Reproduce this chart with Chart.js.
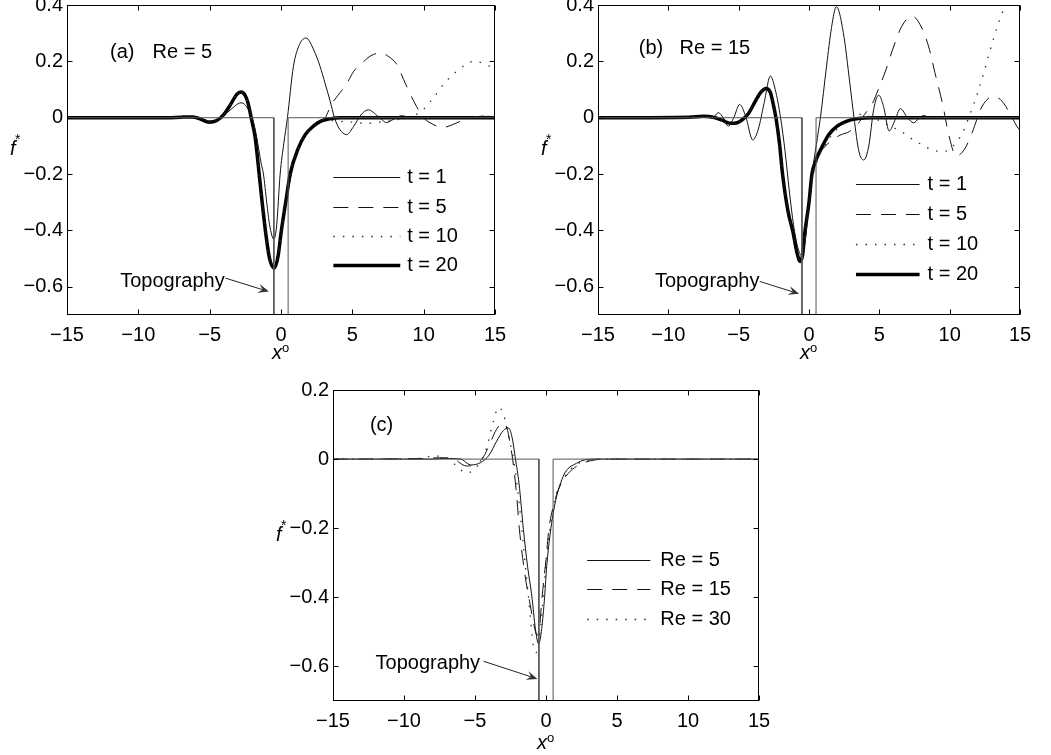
<!DOCTYPE html>
<html>
<head>
<meta charset="utf-8">
<title>f* profiles, Re = 5, 15, 30</title>
<script src="https://cdn.jsdelivr.net/npm/chart.js@4.4.1/dist/chart.umd.min.js"></script>
<style>
  body { margin: 0; background: #fff; }
  #fig { position: relative; width: 1051px; height: 755px; overflow: hidden; background: #fff; }
  #fig canvas { position: absolute; }
</style>
</head>
<body>
<div id="fig">
  <canvas id="chartA" width="520" height="365" style="left:0px;top:0px"></canvas>
  <canvas id="chartB" width="521" height="365" style="left:530px;top:0px"></canvas>
  <canvas id="chartC" width="520" height="385" style="left:260px;top:370px"></canvas>
</div>
<script>
// axis ticks
const xTicks = [-15, -10, -5, 0, 5, 10, 15];
const yTicksTop = [-0.6, -0.4, -0.2, 0, 0.2, 0.4];
const yTicksBottom = [-0.6, -0.4, -0.2, 0, 0.2];

// topography (rectangular step, same in all panels)
const topoX = [-15, -0.5, -0.5, 0.5, 0.5, 15];
const topoY = [0, 0, -1, -1, 0, 0];

// panel (a), Re = 5
const a_t1_x = [-15,-8,-7,-6.5,-6,-5.5,-5,-4.5,-4,-3.5,-3,-2.8,-2.5,-2.2,-2,-1.7,-1.4,-1.23,-1,-0.8,-0.5,-0.3,-0.06,0.2,0.45,0.87,1.3,1.76,2.3,2.74,3.1,3.44,3.75,4.1,4.6,5.1,5.6,6.12,6.8,7.41,7.9,8.46,9.2,10,11,12,13,14,14.5,15];
const a_t1_y = [0,0,0.002,0.004,0.005,-0.004,-0.012,-0.008,0.008,0.03,0.05,0.053,0.045,0.02,-0.005,-0.07,-0.16,-0.2,-0.3,-0.38,-0.431,-0.38,-0.2,-0.09,0,0.182,0.26,0.283,0.24,0.182,0.12,0.06,0,-0.04,-0.06,-0.03,0.01,0.028,0.005,-0.017,-0.005,0.007,0,0.002,0,0,0,0.003,0.005,0.004];
const a_t5_x = [-15,-7,-6,-5.5,-5,-4.5,-4,-3.5,-3.1,-2.8,-2.5,-2.3,-2.08,-1.8,-1.52,-1.28,-1.05,-0.78,-0.46,-0.2,0,0.36,0.64,1.1,1.6,2.39,3.1,3.5,4,4.6,5.1,5.7,6.3,7,7.6,8.1,8.6,9,9.5,10,10.6,11.3,12,12.7,13.3,14.3,15];
const a_t5_y = [0,0.002,0.003,-0.006,-0.015,-0.01,0.011,0.048,0.08,0.088,0.076,0.048,0,-0.07,-0.2,-0.31,-0.41,-0.495,-0.528,-0.49,-0.42,-0.3,-0.22,-0.12,-0.065,-0.019,0,0.045,0.08,0.12,0.165,0.195,0.22,0.23,0.215,0.19,0.135,0.09,0.04,0,-0.022,-0.035,-0.025,-0.01,0,0.006,0.003];
const a_t10_x = [-15,-7,-6,-5.5,-5,-4.5,-4,-3.5,-3.1,-2.8,-2.5,-2.3,-2.09,-1.81,-1.53,-1.3,-1.07,-0.8,-0.46,-0.2,0,0.36,0.64,1.2,1.7,2.3,3,4,5,6,7,8,8.8,9.5,10,10.6,11.5,12.4,13,13.5,14,14.6,15];
const a_t10_y = [0,0.002,0.003,-0.006,-0.016,-0.01,0.012,0.05,0.083,0.091,0.078,0.05,0,-0.07,-0.2,-0.31,-0.41,-0.5,-0.534,-0.49,-0.41,-0.29,-0.2,-0.11,-0.06,-0.03,-0.008,-0.012,-0.016,-0.02,-0.015,-0.008,0,0.012,0.03,0.065,0.125,0.168,0.19,0.2,0.196,0.183,0.175];
const a_t20_x = [-15,-8,-7,-6.2,-5.6,-5.05,-4.5,-4,-3.5,-3.1,-2.8,-2.5,-2.3,-2.09,-1.81,-1.53,-1.3,-1.07,-0.8,-0.46,-0.2,0,0.36,0.64,1.2,1.7,2.27,2.8,3.4,4.2,15];
const a_t20_y = [0,0,0.002,0.003,-0.006,-0.016,-0.01,0.012,0.05,0.083,0.091,0.078,0.05,0,-0.07,-0.2,-0.31,-0.41,-0.5,-0.534,-0.49,-0.41,-0.29,-0.2,-0.11,-0.06,-0.03,-0.012,-0.004,0,0];

// panel (b), Re = 15
const b_t1_x = [-15,-8,-7.2,-6.9,-6.44,-6.1,-5.74,-5.35,-4.93,-4.5,-4,-3.6,-3.2,-2.74,-2.4,-2.02,-1.7,-1.4,-1.1,-0.8,-0.5,-0.25,0,0.3,0.6,0.81,1.25,1.6,1.95,2.44,2.9,3.2,3.55,3.9,4.25,4.6,4.95,5.3,5.7,6.1,6.5,7,7.44,7.8,8.14,8.6,15];
const b_t1_y = [0,0,0.003,-0.003,0.018,0,-0.03,0,0.047,0.005,-0.079,-0.04,0.05,0.148,0.1,0,-0.12,-0.26,-0.38,-0.46,-0.49,-0.43,-0.3,-0.17,-0.07,0,0.184,0.32,0.394,0.302,0.124,0,-0.12,-0.15,-0.1,0.03,0.08,0.04,-0.047,-0.01,0.032,0,-0.018,-0.003,0.008,0,0];
const b_t5_x = [-15,-8.5,-7.5,-6.8,-6.2,-5.6,-5.1,-4.7,-4.3,-3.8,-3.4,-3.05,-2.75,-2.55,-2.35,-2.1,-1.88,-1.5,-1.12,-0.85,-0.62,-0.45,-0.3,0,0.3,0.6,1,1.5,2.2,2.9,3.5,3.95,4.5,5,5.47,5.93,6.6,7.33,7.9,8.49,8.95,9.53,9.9,10.47,11.05,11.6,12.2,12.67,13,13.6,14.19,14.77,15];
const b_t5_y = [0,0.002,0.005,0.002,-0.008,-0.02,-0.018,-0.005,0.015,0.06,0.092,0.104,0.09,0.05,0,-0.09,-0.2,-0.33,-0.41,-0.48,-0.51,-0.485,-0.42,-0.31,-0.19,-0.14,-0.11,-0.085,-0.062,-0.048,-0.02,0.012,0.05,0.11,0.17,0.24,0.325,0.361,0.33,0.255,0.16,0.041,-0.053,-0.136,-0.112,-0.053,0.03,0.065,0.075,0.065,0.024,-0.03,-0.045];
const b_t10_x = [-15,-8.5,-7.5,-6.8,-6.2,-5.6,-5.1,-4.7,-4.3,-3.8,-3.4,-3.05,-2.75,-2.55,-2.35,-2.1,-1.88,-1.5,-1.12,-0.85,-0.62,-0.45,-0.3,0,0.3,0.6,1,1.5,2,3,3.6,4.2,5,5.8,6.6,7.4,8,8.8,9.5,10,10.5,10.9,11.5,12,12.4,13,13.5,13.8,14.2,14.6];
const b_t10_y = [0,0.002,0.005,0.002,-0.008,-0.02,-0.018,-0.005,0.015,0.06,0.092,0.104,0.09,0.05,0,-0.09,-0.2,-0.33,-0.41,-0.48,-0.51,-0.485,-0.41,-0.3,-0.2,-0.15,-0.11,-0.07,-0.04,-0.005,0.012,0.006,-0.01,-0.03,-0.05,-0.078,-0.095,-0.115,-0.12,-0.112,-0.085,-0.055,0.02,0.09,0.155,0.26,0.34,0.38,0.44,0.5];
const b_t20_x = [-15,-8.5,-7.5,-6.8,-6.2,-5.6,-5.1,-4.7,-4.3,-3.8,-3.4,-3.05,-2.75,-2.55,-2.35,-2.1,-1.88,-1.5,-1.12,-0.85,-0.62,-0.45,-0.3,0,0.21,0.5,0.86,1.4,2,2.7,3.5,4.5,15];
const b_t20_y = [0,0.002,0.005,0.002,-0.008,-0.02,-0.018,-0.005,0.015,0.06,0.092,0.104,0.09,0.05,0,-0.09,-0.2,-0.33,-0.41,-0.48,-0.51,-0.485,-0.41,-0.3,-0.2,-0.15,-0.11,-0.06,-0.03,-0.012,-0.003,0,0];

// panel (c), t = 20 for three Reynolds numbers
const c_re5_x = [-15,-8,-7,-6,-5.3,-4.6,-4,-3.5,-3,-2.64,-2.4,-2.15,-1.9,-1.59,-1.3,-1,-0.75,-0.52,-0.3,-0.1,0.05,0.51,1.21,2.15,3.3,15];
const c_re5_y = [0,0,0.002,0,-0.017,-0.01,0.012,0.05,0.083,0.09,0.065,0,-0.07,-0.204,-0.31,-0.396,-0.49,-0.535,-0.49,-0.4,-0.31,-0.156,-0.05,-0.012,0,0];
const c_re15_x = [-15,-8.5,-7.5,-6.5,-5.6,-5,-4.5,-4,-3.5,-3.05,-2.75,-2.55,-2.35,-2.1,-1.88,-1.5,-1.12,-0.85,-0.62,-0.45,-0.3,0,0.21,0.5,0.86,1.4,2,2.7,3.5,4.5,15];
const c_re15_y = [0,0.002,0.004,0,-0.02,-0.015,0,0.04,0.085,0.104,0.09,0.05,0,-0.09,-0.2,-0.33,-0.42,-0.48,-0.51,-0.485,-0.41,-0.29,-0.2,-0.14,-0.09,-0.05,-0.025,-0.01,-0.002,0,0];
const c_re30_x = [-15,-9,-8,-7,-6.3,-5.6,-5.1,-4.7,-4.2,-3.7,-3.34,-3,-2.6,-2.29,-1.94,-1.59,-1.24,-0.89,-0.7,-0.5,-0.3,-0.1,0.16,0.59,1.06,1.6,2.3,3.2,4,15];
const c_re30_y = [0,0.002,0.009,0.004,-0.02,-0.04,-0.032,-0.012,0.03,0.11,0.15,0.13,0.06,0,-0.108,-0.252,-0.396,-0.54,-0.56,-0.53,-0.45,-0.35,-0.24,-0.12,-0.07,-0.035,-0.012,-0.002,0,0];

const FONT = "'Liberation Sans', Arial, Helvetica, sans-serif";
Chart.defaults.font.family = FONT;
Chart.defaults.font.size = 20;
Chart.defaults.color = '#000';

function pts(xs, ys) {
    return xs.map((x, i) => ({ x: x, y: ys[i] }));
}

// line styles
const thinStyle = { borderColor: '#111', borderWidth: 1 };
const dashStyle = { borderColor: '#111', borderWidth: 1, borderDash: [15, 10] };
const dotStyle = { borderColor: '#333', borderWidth: 1.3, borderDash: [1.5, 8] };
const thickStyle = { borderColor: '#000', borderWidth: 3.5 };

function curve(label, xs, ys, style) {
    return Object.assign({ label: label, data: pts(xs, ys), cubicInterpolationMode: 'monotone' }, style);
}

function topo() {
    return { label: 'Topography', data: pts(topoX, topoY), borderColor: '#555', borderWidth: 1, tension: 0 };
}

function signed(v) {
    return v < 0 ? '\u2212' + String(-v) : String(v);
}

function arrow(ctx, x0, y0, x1, y1) {
    const ang = Math.atan2(y1 - y0, x1 - x0);
    const c = Math.cos(ang), s = Math.sin(ang);
    const len = 11, half = 4.5;
    ctx.strokeStyle = '#222';
    ctx.lineWidth = 1;
    ctx.beginPath();
    ctx.moveTo(x0, y0);
    ctx.lineTo(x1 - c * len * 0.6, y1 - s * len * 0.6);
    ctx.stroke();
    ctx.fillStyle = '#333';
    ctx.beginPath();
    ctx.moveTo(x1, y1);
    ctx.lineTo(x1 - c * len + s * half, y1 - s * len - c * half);
    ctx.lineTo(x1 - c * len * 0.6, y1 - s * len * 0.6);
    ctx.lineTo(x1 - c * len - s * half, y1 - s * len + c * half);
    ctx.closePath();
    ctx.fill();
}

// box, inward ticks, labels, legend and annotation
const decor = {
    id: 'decor',
    afterDatasetsDraw(chart, args, o) {
        const ctx = chart.ctx, a = chart.chartArea;
        const sx = chart.scales.x, sy = chart.scales.y;
        const X = v => sx.getPixelForValue(v), Y = v => sy.getPixelForValue(v);
        ctx.save();
        ctx.setLineDash([]);

        const L = Math.round(a.left) + 0.5, R = Math.round(a.right) - 0.5;
        const T = Math.round(a.top) + 0.5, B = Math.round(a.bottom) - 0.5;
        ctx.strokeStyle = '#000';
        ctx.lineWidth = 1;
        ctx.strokeRect(L, T, R - L, B - T);
        ctx.beginPath();
        sx.ticks.forEach(t => {
            const p = Math.round(X(t.value)) + 0.5;
            ctx.moveTo(p, B); ctx.lineTo(p, B - 5);
            ctx.moveTo(p, T); ctx.lineTo(p, T + 5);
        });
        sy.ticks.forEach(t => {
            const p = Math.round(Y(t.value)) + 0.5;
            ctx.moveTo(L, p); ctx.lineTo(L + 5, p);
            ctx.moveTo(R, p); ctx.lineTo(R - 5, p);
        });
        ctx.stroke();

        ctx.fillStyle = '#000';
        ctx.textAlign = 'left';
        ctx.textBaseline = 'middle';
        ctx.font = '20px ' + FONT;
        o.labels.forEach(l => ctx.fillText(l.text, X(l.x), Y(l.y)));

        // topography pointer
        const tp = o.topo;
        ctx.fillText('Topography', X(tp.tx), Y(tp.ty));
        arrow(ctx, X(tp.ax0), Y(tp.ay0), X(tp.ax1), Y(tp.ay1));

        // legend
        const lg = o.legend;
        lg.items.forEach((di, k) => {
            const ds = chart.data.datasets[di];
            const py = Math.round(Y(lg.ys[k])) + 0.5;
            ctx.strokeStyle = ds.borderColor;
            ctx.lineWidth = ds.borderWidth;
            ctx.setLineDash(ds.borderDash || []);
            ctx.beginPath();
            ctx.moveTo(X(lg.x0), py);
            ctx.lineTo(X(lg.x1), py);
            ctx.stroke();
            ctx.setLineDash([]);
            ctx.fillStyle = '#000';
            ctx.fillText(ds.label, X(lg.xt), py);
        });

        // axis titles with superscripts
        const cx = (a.left + a.right) / 2, cy = (a.top + a.bottom) / 2;
        ctx.textBaseline = 'alphabetic';
        ctx.font = 'italic 20px ' + FONT;
        ctx.fillText('f', a.left - 57, cy - 5);
        ctx.font = '14px ' + FONT;
        ctx.fillText('*', a.left - 52, cy - 16);
        ctx.font = 'italic 20px ' + FONT;
        ctx.fillText('x', cx - 9, a.bottom + o.xTitle);
        ctx.font = '13px ' + FONT;
        ctx.fillText('o', cx + 1, a.bottom + o.xTitle - 7);
        ctx.restore();
    }
};

function makeChart(id, datasets, yMax, yTicks, lay, deco) {
    return new Chart(document.getElementById(id), {
        type: 'line',
        data: { datasets: datasets },
        options: {
            responsive: false,
            animation: false,
            devicePixelRatio: 1,
            layout: { padding: lay.pad },
            elements: { point: { radius: 0, hoverRadius: 0 } },
            plugins: { legend: { display: false }, tooltip: { enabled: false }, decor: deco },
            scales: {
                x: {
                    type: 'linear', min: -15, max: 15,
                    afterBuildTicks: s => { s.ticks = xTicks.map(v => ({ value: v })); },
                    afterFit: s => { s.height = lay.xh; s.paddingLeft = 0; s.paddingRight = 0; },
                    grid: { display: false, drawTicks: false },
                    border: { display: false },
                    ticks: { padding: 8, maxRotation: 0, autoSkip: false, color: '#000', callback: v => signed(v) }
                },
                y: {
                    type: 'linear', min: -0.7, max: yMax,
                    afterBuildTicks: s => { s.ticks = yTicks.map(v => ({ value: v })); },
                    afterFit: s => { s.width = lay.yw; s.paddingTop = 0; s.paddingBottom = 0; },
                    grid: { display: false, drawTicks: false },
                    border: { display: false },
                    ticks: { padding: 4, autoSkip: false, color: '#000', callback: v => signed(v) }
                }
            }
        },
        plugins: [decor]
    });
}

makeChart('chartA', [
    topo(),
    curve('t = 1', a_t1_x, a_t1_y, thinStyle),
    curve('t = 5', a_t5_x, a_t5_y, dashStyle),
    curve('t = 10', a_t10_x, a_t10_y, dotStyle),
    curve('t = 20', a_t20_x, a_t20_y, thickStyle)
], 0.4, yTicksTop,
{ pad: { top: 5, right: 25, left: 0, bottom: 0 }, xh: 50, yw: 67 },
{
    labels: [{ text: '(a)', x: -11.98, y: 0.233 }, { text: 'Re = 5', x: -9.0, y: 0.233 }],
    topo: { tx: -11.27, ty: -0.58, ax0: -3.9, ay0: -0.569, ax1: -0.85, ay1: -0.617 },
    legend: { items: [1, 2, 3, 4], x0: 3.67, x1: 8.36, xt: 8.85, ys: [-0.209, -0.315, -0.419, -0.522] },
    xTitle: 44
});

makeChart('chartB', [
    topo(),
    curve('t = 1', b_t1_x, b_t1_y, thinStyle),
    curve('t = 5', b_t5_x, b_t5_y, dashStyle),
    curve('t = 10', b_t10_x, b_t10_y, dotStyle),
    curve('t = 20', b_t20_x, b_t20_y, thickStyle)
], 0.4, yTicksTop,
{ pad: { top: 5, right: 31, left: 0, bottom: 0 }, xh: 50, yw: 68 },
{
    labels: [{ text: '(b)', x: -12.1, y: 0.245 }, { text: 'Re = 15', x: -9.2, y: 0.245 }],
    topo: { tx: -10.95, ty: -0.581, ax0: -3.5, ay0: -0.581, ax1: -0.7, ay1: -0.625 },
    legend: { items: [1, 2, 3, 4], x0: 3.34, x1: 7.86, xt: 8.43, ys: [-0.234, -0.341, -0.448, -0.554] },
    xTitle: 44
});

makeChart('chartC', [
    topo(),
    curve('Re = 5', c_re5_x, c_re5_y, thinStyle),
    curve('Re = 15', c_re15_x, c_re15_y, dashStyle),
    curve('Re = 30', c_re30_x, c_re30_y, dotStyle)
], 0.2, yTicksBottom,
{ pad: { top: 20, right: 21, left: 0, bottom: 0 }, xh: 54, yw: 73 },
{
    labels: [{ text: '(c)', x: -12.4, y: 0.096 }],
    topo: { tx: -12.0, ty: -0.59, ax0: -4.4, ay0: -0.585, ax1: -0.6, ay1: -0.636 },
    legend: { items: [1, 2, 3], x0: 2.9, x1: 7.35, xt: 8.05, ys: [-0.293, -0.377, -0.463] },
    xTitle: 48
});
</script>
</body>
</html>
